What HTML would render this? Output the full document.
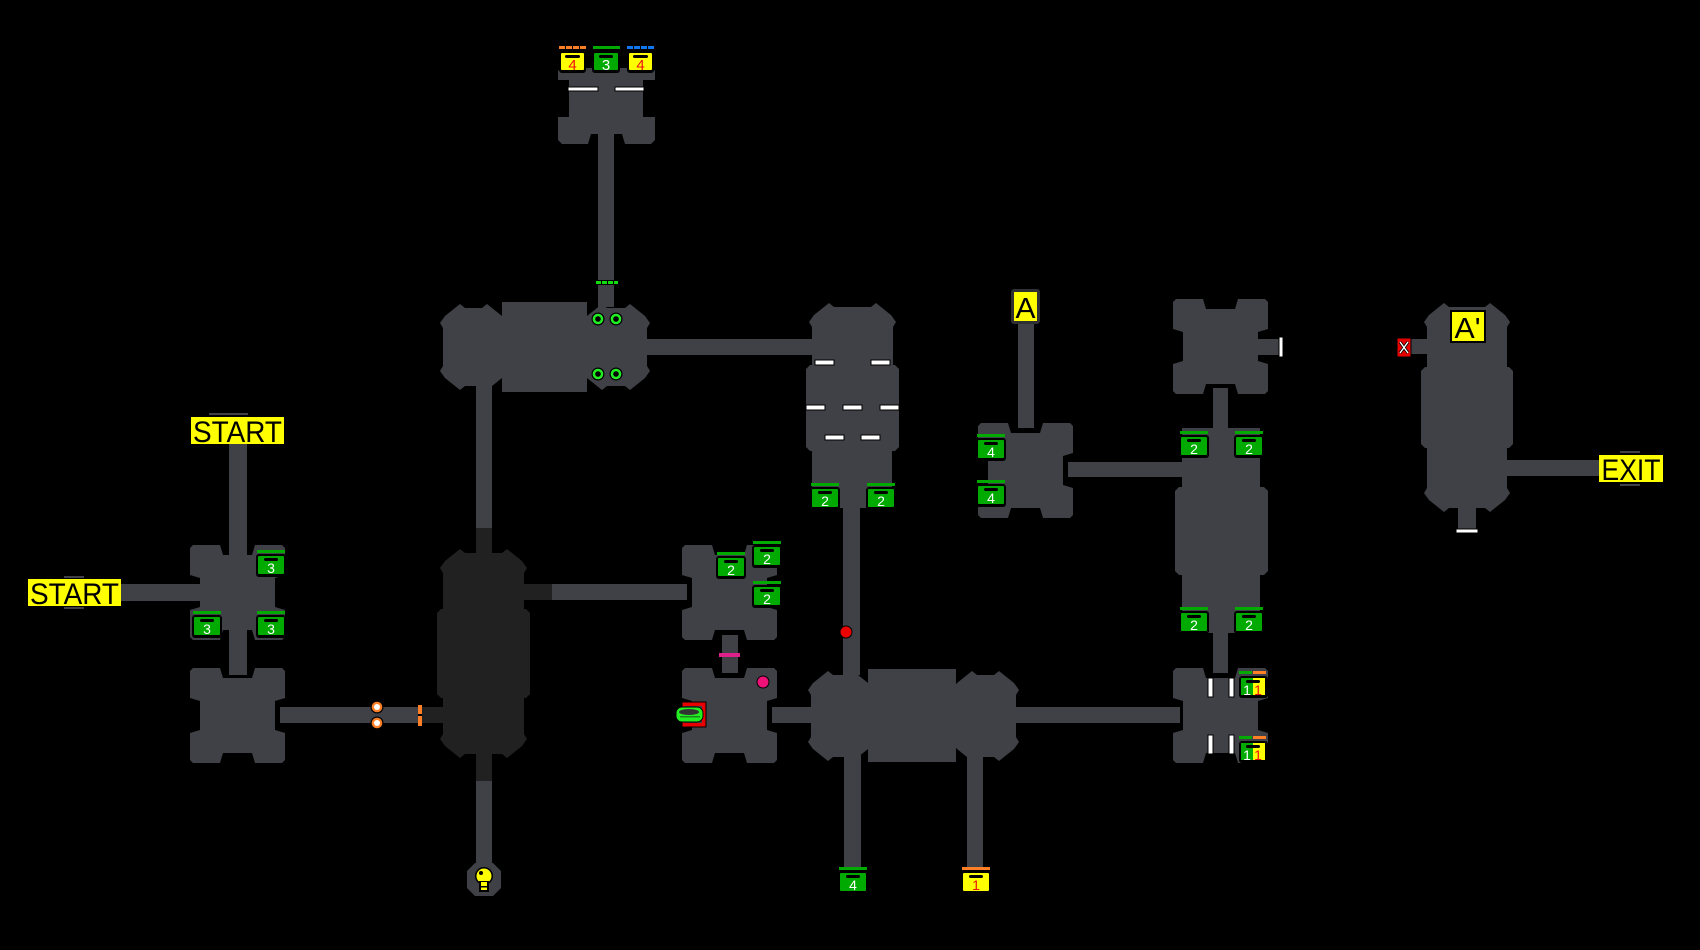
<!DOCTYPE html>
<html>
<head>
<meta charset="utf-8">
<style>
html,body{margin:0;padding:0;background:#000;}
svg{display:block;}
text{font-family:"Liberation Sans",sans-serif;}
</style>
</head>
<body>
<svg width="1700" height="950" viewBox="0 0 1700 950" xmlns="http://www.w3.org/2000/svg">
<defs>
<path id="cr" d="M3,0 L30,0 L33,10 L62,10 L65,0 L92,0 L95,3 L95,30 L85,33 L85,62 L95,65 L95,92 L92,95 L65,95 L62,85 L33,85 L30,95 L3,95 L0,92 L0,65 L10,62 L10,33 L0,30 L0,3 Z"/>
</defs>
<rect width="1700" height="950" fill="#000"/>

<!-- corridors -->
<g fill="#3f4146">
<rect x="229" y="444" width="18" height="120"/>
<rect x="121" y="584" width="85" height="17"/>
<rect x="229" y="625" width="18" height="50"/>
<rect x="280" y="707" width="142" height="16"/>
<rect x="476" y="385" width="16" height="143"/>
<rect x="476" y="781" width="16" height="85"/>
<rect x="552" y="584" width="135" height="16"/>
<rect x="598" y="130" width="16" height="177"/>
<rect x="645" y="339" width="170" height="16"/>
<rect x="843" y="505" width="17" height="170"/>
<rect x="722" y="635" width="16" height="38"/>
<rect x="772" y="707" width="40" height="16"/>
<rect x="844" y="755" width="17" height="115"/>
<rect x="967" y="755" width="16" height="115"/>
<rect x="1015" y="707" width="165" height="16"/>
<rect x="1213" y="628" width="15" height="45"/>
<rect x="1213" y="388" width="15" height="45"/>
<rect x="1068" y="462" width="115" height="15"/>
<rect x="1018" y="321" width="16" height="107"/>
<rect x="1258" y="339" width="22" height="16"/>
<rect x="1411" y="339" width="17" height="15"/>
<rect x="1507" y="460" width="92" height="16"/>
<rect x="1458" y="505" width="18" height="25"/>
<!-- small tabs near labels -->
<rect x="209" y="413" width="39" height="2"/>
<rect x="64" y="576" width="20" height="2"/>
<rect x="64" y="607" width="20" height="2"/>
<rect x="1620" y="451" width="20" height="2"/>
<rect x="1620" y="484" width="20" height="2"/>
</g>
<g fill="#212121">
<rect x="476" y="528" width="16" height="25"/>
<rect x="476" y="753" width="16" height="28"/>
<rect x="523" y="584" width="29" height="16"/>
<rect x="422" y="707" width="23" height="16"/>
</g>

<!-- cross rooms -->
<g fill="#3f4146">
<use href="#cr" x="190" y="545"/>
<use href="#cr" x="190" y="668"/>
<use href="#cr" x="682" y="545"/>
<use href="#cr" x="682" y="668"/>
<use href="#cr" x="1173" y="668"/>
<use href="#cr" x="1173" y="299"/>
<use href="#cr" x="978" y="423"/>
</g>

<!-- blob rooms -->
<g fill="#3f4146">
<!-- D -->
<polygon points="460,304 465,308 482,308 487,304 502,316 507,323 504,328 504,366 507,371 502,378 487,390 482,386 465,386 460,390 445,378 440,371 443,366 443,328 440,323 445,316"/>
<rect x="502" y="302" width="85" height="90"/>
<polygon points="602,304 607,308 625,308 630,304 645,316 650,323 647,328 647,366 650,371 645,378 630,390 625,386 607,386 602,390 587,378 582,371 585,366 585,328 582,323 587,316"/>
<!-- I -->
<polygon points="828,671 833,675 848,675 853,671 868,683 873,690 870,695 870,737 873,742 868,749 853,761 848,757 833,757 828,761 813,749 808,742 811,737 811,695 808,690 813,683"/>
<rect x="868" y="669" width="88" height="93"/>
<polygon points="972,671 977,675 994,675 999,671 1014,683 1019,690 1016,695 1016,737 1019,742 1014,749 999,761 994,757 977,757 972,761 957,749 952,742 955,737 955,695 952,690 957,683"/>
<!-- F -->
<polygon points="829,303 834,307 871,307 876,303 891,315 896,322 893,327 893,368 812,368 812,327 809,322 814,315"/>
<polygon points="810,365 895,365 899,369 899,447 895,451 810,451 806,447 806,369"/>
<rect x="812" y="450" width="80" height="58"/>
<!-- N -->
<polygon points="1444,303 1449,307 1485,307 1490,303 1505,315 1510,322 1507,327 1507,370 1427,370 1427,327 1424,322 1429,315"/>
<polygon points="1425,367 1509,367 1513,371 1513,444 1509,448 1425,448 1421,444 1421,371"/>
<polygon points="1427,446 1507,446 1507,488 1510,493 1505,500 1490,512 1485,508 1449,508 1444,512 1429,500 1424,493 1427,488"/>
<!-- K -->
<rect x="1182" y="428" width="78" height="62"/>
<polygon points="1179,487 1264,487 1268,491 1268,571 1264,575 1179,575 1175,571 1175,491"/>
<rect x="1182" y="573" width="78" height="60"/>
<!-- E -->
<rect x="569" y="70" width="74" height="64"/>
<polygon points="561,68 652,68 655,71 655,80 558,80 558,71"/>
<polygon points="558,117 588,117 588,134 591,134 588,144 562,144 558,140"/>
<polygon points="625,117 655,117 655,140 651,144 625,144 622,134 625,134"/>
<rect x="569" y="110" width="74" height="24"/>
<!-- bulb octagon -->
<polygon points="475,863 493,863 501,871 501,888 493,896 475,896 467,888 467,871"/>
</g>

<!-- dark room C -->
<g fill="#212121">
<polygon points="460,549 465,553 502,553 507,549 522,561 527,568 524,573 524,615 443,615 443,573 440,568 445,561"/>
<polygon points="441,609 526,609 530,613 530,694 526,698 441,698 437,694 437,613"/>
<polygon points="443,693 524,693 524,734 527,739 522,746 507,758 502,754 465,754 460,758 445,746 440,739 443,734"/>
</g>

<!-- white bars -->
<g fill="#fff" stroke="#000" stroke-width="1">
<rect x="568" y="87" width="30" height="4"/>
<rect x="615" y="87" width="29" height="4"/>
<rect x="815" y="360" width="19" height="5"/>
<rect x="871" y="360" width="19" height="5"/>
<rect x="806" y="405" width="19" height="5"/>
<rect x="843" y="405" width="19" height="5"/>
<rect x="880" y="405" width="19" height="5"/>
<rect x="825" y="435" width="19" height="5"/>
<rect x="861" y="435" width="19" height="5"/>
<rect x="1208" y="678" width="5" height="19"/>
<rect x="1229" y="678" width="5" height="19"/>
<rect x="1208" y="735" width="5" height="19"/>
<rect x="1229" y="735" width="5" height="19"/>
<rect x="1279" y="337" width="4" height="20"/>
<rect x="1456" y="529" width="22" height="4"/>
</g>

<!-- green dotted bar -->
<rect x="595" y="280" width="24" height="5" fill="#000"/>
<g fill="#11dd11">
<rect x="596" y="281" width="5" height="3"/>
<rect x="602" y="281" width="5" height="3"/>
<rect x="608" y="281" width="5" height="3"/>
<rect x="614" y="281" width="4" height="3"/>
</g>

<!-- green rings -->
<g>
<circle cx="598" cy="319" r="6.5" fill="#000"/><circle cx="598" cy="319" r="5.3" fill="#22ee22"/><circle cx="598" cy="319" r="2.8" fill="#000"/>
<circle cx="616" cy="319" r="6.5" fill="#000"/><circle cx="616" cy="319" r="5.3" fill="#22ee22"/><circle cx="616" cy="319" r="2.8" fill="#000"/>
<circle cx="598" cy="374" r="6.5" fill="#000"/><circle cx="598" cy="374" r="5.3" fill="#22ee22"/><circle cx="598" cy="374" r="2.8" fill="#000"/>
<circle cx="616" cy="374" r="6.5" fill="#000"/><circle cx="616" cy="374" r="5.3" fill="#22ee22"/><circle cx="616" cy="374" r="2.8" fill="#000"/>
</g>

<!-- orange rings and bar -->
<g>
<circle cx="377" cy="707" r="6.5" fill="#000"/><circle cx="377" cy="707" r="5.3" fill="#ff7f27"/><circle cx="377" cy="707" r="3" fill="#fff"/>
<circle cx="377" cy="723" r="6.5" fill="#000"/><circle cx="377" cy="723" r="5.3" fill="#ff7f27"/><circle cx="377" cy="723" r="3" fill="#fff"/>
<rect x="418" y="705" width="4" height="21" fill="#ff7f27"/>
<rect x="418" y="714" width="4" height="2" fill="#000"/>
</g>

<!-- red dot, pink dot, pink bar -->
<circle cx="846" cy="632" r="6.5" fill="#000"/><circle cx="846" cy="632" r="5.5" fill="#ee0000"/>
<circle cx="763" cy="682" r="6.5" fill="#000"/><circle cx="763" cy="682" r="5.5" fill="#ee1177"/>
<rect x="719" y="653" width="21" height="4" fill="#e0208a"/>

<!-- red box with green tub -->
<rect x="682" y="702" width="24" height="25" fill="#e80000" stroke="#000" stroke-width="1"/>
<rect x="684" y="706" width="18" height="17" fill="#3f4146"/>
<rect x="676" y="707" width="27" height="15" rx="6" fill="#22ee22" stroke="#000" stroke-width="1"/>
<ellipse cx="689" cy="712" rx="10" ry="3" fill="#333"/>
<rect x="680" y="716" width="20" height="1.5" fill="#1a8a1a"/>

<!-- X box -->
<rect x="1397" y="338" width="14" height="19" fill="#e80000" stroke="#000" stroke-width="1"/>
<path d="M1400,342 L1408,353 M1408,342 L1400,353" stroke="#000" stroke-width="3"/>
<path d="M1400,342 L1408,353 M1408,342 L1400,353" stroke="#fff" stroke-width="1.4"/>

<!-- bulb -->
<circle cx="484" cy="876" r="9" fill="#000"/>
<circle cx="484" cy="876" r="7.5" fill="#ffff00"/>
<rect x="479" y="881" width="10" height="11" fill="#000"/>
<rect x="481" y="882" width="6" height="8" fill="#ffff00"/>
<rect x="481" y="886" width="6" height="1.5" fill="#000"/>
<circle cx="481" cy="873" r="2" fill="#000"/>

<!-- chests -->
<!-- E -->
<g transform="translate(559,46)">
<rect x="0" y="0" width="27" height="4" fill="#000"/>
<rect x="0" y="0" width="6" height="3" fill="#ff7f27"/><rect x="7" y="0" width="6" height="3" fill="#ff7f27"/><rect x="14" y="0" width="6" height="3" fill="#ff7f27"/><rect x="21" y="0" width="6" height="3" fill="#ff7f27"/>
<rect x="0" y="5" width="27" height="22" rx="3" fill="#000"/>
<rect x="2" y="7" width="23" height="17" rx="1" fill="#ffff00"/>
<rect x="6" y="9" width="15" height="3" rx="1.5" fill="#000"/>
<text x="13.5" y="24" font-size="15" text-anchor="middle" fill="#ee1111">4</text>
</g>
<g transform="translate(592,46)">
<rect x="1" y="0" width="27" height="3" fill="#00aa00"/>
<rect x="0" y="5" width="28" height="22" rx="3" fill="#000"/>
<rect x="2" y="7" width="24" height="17" rx="1" fill="#00aa00"/>
<rect x="7" y="9" width="14" height="3" rx="1.5" fill="#000"/>
<text x="14" y="24" font-size="15" text-anchor="middle" fill="#fff">3</text>
</g>
<g transform="translate(627,46)">
<rect x="0" y="0" width="27" height="4" fill="#000"/>
<rect x="0" y="0" width="6" height="3" fill="#1177ee"/><rect x="7" y="0" width="6" height="3" fill="#1177ee"/><rect x="14" y="0" width="6" height="3" fill="#1177ee"/><rect x="21" y="0" width="6" height="3" fill="#1177ee"/>
<rect x="0" y="5" width="27" height="22" rx="3" fill="#000"/>
<rect x="2" y="7" width="23" height="17" rx="1" fill="#ffff00"/>
<rect x="6" y="9" width="15" height="3" rx="1.5" fill="#000"/>
<text x="13.5" y="24" font-size="15" text-anchor="middle" fill="#ee1111">4</text>
</g>

<!-- green chests (generic) -->
<g id="gchests">
<g transform="translate(256,550)"><rect x="1" y="0" width="28" height="3" fill="#00aa00"/><rect x="0" y="4" width="30" height="23" rx="3" fill="#000"/><rect x="2" y="6" width="26" height="18" rx="1" fill="#00aa00"/><rect x="8" y="8" width="14" height="3" rx="1.5" fill="#000"/><text x="15" y="23" font-size="14" text-anchor="middle" fill="#fff">3</text></g>
<g transform="translate(192,611)"><rect x="1" y="0" width="28" height="3" fill="#00aa00"/><rect x="0" y="4" width="30" height="23" rx="3" fill="#000"/><rect x="2" y="6" width="26" height="18" rx="1" fill="#00aa00"/><rect x="8" y="8" width="14" height="3" rx="1.5" fill="#000"/><text x="15" y="23" font-size="14" text-anchor="middle" fill="#fff">3</text></g>
<g transform="translate(256,611)"><rect x="1" y="0" width="28" height="3" fill="#00aa00"/><rect x="0" y="4" width="30" height="23" rx="3" fill="#000"/><rect x="2" y="6" width="26" height="18" rx="1" fill="#00aa00"/><rect x="8" y="8" width="14" height="3" rx="1.5" fill="#000"/><text x="15" y="23" font-size="14" text-anchor="middle" fill="#fff">3</text></g>

<g transform="translate(716,552)"><rect x="1" y="0" width="28" height="3" fill="#00aa00"/><rect x="0" y="4" width="30" height="23" rx="3" fill="#000"/><rect x="2" y="6" width="26" height="18" rx="1" fill="#00aa00"/><rect x="8" y="8" width="14" height="3" rx="1.5" fill="#000"/><text x="15" y="23" font-size="14" text-anchor="middle" fill="#fff">2</text></g>
<g transform="translate(752,541)"><rect x="1" y="0" width="28" height="3" fill="#00aa00"/><rect x="0" y="4" width="30" height="23" rx="3" fill="#000"/><rect x="2" y="6" width="26" height="18" rx="1" fill="#00aa00"/><rect x="8" y="8" width="14" height="3" rx="1.5" fill="#000"/><text x="15" y="23" font-size="14" text-anchor="middle" fill="#fff">2</text></g>
<g transform="translate(752,581)"><rect x="1" y="0" width="28" height="3" fill="#00aa00"/><rect x="0" y="4" width="30" height="23" rx="3" fill="#000"/><rect x="2" y="6" width="26" height="18" rx="1" fill="#00aa00"/><rect x="8" y="8" width="14" height="3" rx="1.5" fill="#000"/><text x="15" y="23" font-size="14" text-anchor="middle" fill="#fff">2</text></g>

<g transform="translate(810,483)"><rect x="1" y="0" width="28" height="3" fill="#00aa00"/><rect x="0" y="4" width="30" height="23" rx="3" fill="#000"/><rect x="2" y="6" width="26" height="18" rx="1" fill="#00aa00"/><rect x="8" y="8" width="14" height="3" rx="1.5" fill="#000"/><text x="15" y="23" font-size="14" text-anchor="middle" fill="#fff">2</text></g>
<g transform="translate(866,483)"><rect x="1" y="0" width="28" height="3" fill="#00aa00"/><rect x="0" y="4" width="30" height="23" rx="3" fill="#000"/><rect x="2" y="6" width="26" height="18" rx="1" fill="#00aa00"/><rect x="8" y="8" width="14" height="3" rx="1.5" fill="#000"/><text x="15" y="23" font-size="14" text-anchor="middle" fill="#fff">2</text></g>

<g transform="translate(976,434)"><rect x="1" y="0" width="28" height="3" fill="#00aa00"/><rect x="0" y="4" width="30" height="23" rx="3" fill="#000"/><rect x="2" y="6" width="26" height="18" rx="1" fill="#00aa00"/><rect x="8" y="8" width="14" height="3" rx="1.5" fill="#000"/><text x="15" y="23" font-size="14" text-anchor="middle" fill="#fff">4</text></g>
<g transform="translate(976,480)"><rect x="1" y="0" width="28" height="3" fill="#00aa00"/><rect x="0" y="4" width="30" height="23" rx="3" fill="#000"/><rect x="2" y="6" width="26" height="18" rx="1" fill="#00aa00"/><rect x="8" y="8" width="14" height="3" rx="1.5" fill="#000"/><text x="15" y="23" font-size="14" text-anchor="middle" fill="#fff">4</text></g>

<g transform="translate(1179,431)"><rect x="1" y="0" width="28" height="3" fill="#00aa00"/><rect x="0" y="4" width="30" height="23" rx="3" fill="#000"/><rect x="2" y="6" width="26" height="18" rx="1" fill="#00aa00"/><rect x="8" y="8" width="14" height="3" rx="1.5" fill="#000"/><text x="15" y="23" font-size="14" text-anchor="middle" fill="#fff">2</text></g>
<g transform="translate(1234,431)"><rect x="1" y="0" width="28" height="3" fill="#00aa00"/><rect x="0" y="4" width="30" height="23" rx="3" fill="#000"/><rect x="2" y="6" width="26" height="18" rx="1" fill="#00aa00"/><rect x="8" y="8" width="14" height="3" rx="1.5" fill="#000"/><text x="15" y="23" font-size="14" text-anchor="middle" fill="#fff">2</text></g>
<g transform="translate(1179,607)"><rect x="1" y="0" width="28" height="3" fill="#00aa00"/><rect x="0" y="4" width="30" height="23" rx="3" fill="#000"/><rect x="2" y="6" width="26" height="18" rx="1" fill="#00aa00"/><rect x="8" y="8" width="14" height="3" rx="1.5" fill="#000"/><text x="15" y="23" font-size="14" text-anchor="middle" fill="#fff">2</text></g>
<g transform="translate(1234,607)"><rect x="1" y="0" width="28" height="3" fill="#00aa00"/><rect x="0" y="4" width="30" height="23" rx="3" fill="#000"/><rect x="2" y="6" width="26" height="18" rx="1" fill="#00aa00"/><rect x="8" y="8" width="14" height="3" rx="1.5" fill="#000"/><text x="15" y="23" font-size="14" text-anchor="middle" fill="#fff">2</text></g>

<g transform="translate(838,867)"><rect x="1" y="0" width="28" height="3" fill="#00aa00"/><rect x="0" y="4" width="30" height="23" rx="3" fill="#000"/><rect x="2" y="6" width="26" height="18" rx="1" fill="#00aa00"/><rect x="8" y="8" width="14" height="3" rx="1.5" fill="#000"/><text x="15" y="23" font-size="14" text-anchor="middle" fill="#fff">4</text></g>
</g>

<!-- yellow 1 chest bottom -->
<g transform="translate(961,867)"><rect x="1" y="0" width="28" height="3" fill="#ff7f27"/><rect x="0" y="4" width="30" height="23" rx="3" fill="#000"/><rect x="2" y="6" width="26" height="18" rx="1" fill="#ffff00"/><rect x="8" y="8" width="14" height="3" rx="1.5" fill="#000"/><text x="15" y="23" font-size="14" text-anchor="middle" fill="#ee1111">1</text></g>

<!-- split chests J -->
<g transform="translate(1239,671)">
<rect x="0" y="0" width="13" height="3" fill="#00aa00"/><rect x="14" y="0" width="13" height="3" fill="#ff7f27"/>
<rect x="0" y="5" width="29" height="22" rx="3" fill="#000"/>
<rect x="2" y="7" width="12" height="17" fill="#00aa00"/><rect x="14" y="7" width="12" height="17" fill="#ffff00"/>
<rect x="7" y="9" width="14" height="3" rx="1.5" fill="#000"/>
<text x="8" y="24" font-size="14" text-anchor="middle" fill="#fff">1</text>
<text x="19" y="24" font-size="14" text-anchor="middle" fill="#ee1111">1</text>
</g>
<g transform="translate(1239,736)">
<rect x="0" y="0" width="13" height="3" fill="#00aa00"/><rect x="14" y="0" width="13" height="3" fill="#ff7f27"/>
<rect x="0" y="5" width="29" height="22" rx="3" fill="#000"/>
<rect x="2" y="7" width="12" height="17" fill="#00aa00"/><rect x="14" y="7" width="12" height="17" fill="#ffff00"/>
<rect x="7" y="9" width="14" height="3" rx="1.5" fill="#000"/>
<text x="8" y="24" font-size="14" text-anchor="middle" fill="#fff">1</text>
<text x="19" y="24" font-size="14" text-anchor="middle" fill="#ee1111">1</text>
</g>

<!-- labels -->
<rect x="191" y="417" width="93" height="27" fill="#ffff00"/>
<text x="237.5" y="442" font-size="30" text-anchor="middle" fill="#000" textLength="89" lengthAdjust="spacingAndGlyphs">START</text>

<rect x="28" y="579" width="93" height="27" fill="#ffff00"/>
<text x="74.5" y="604" font-size="30" text-anchor="middle" fill="#000" textLength="89" lengthAdjust="spacingAndGlyphs">START</text>

<rect x="1599" y="455" width="64" height="27" fill="#ffff00"/>
<text x="1631" y="480" font-size="30" text-anchor="middle" fill="#000" textLength="59" lengthAdjust="spacingAndGlyphs">EXIT</text>

<rect x="1011" y="289" width="29" height="35" rx="3" fill="#2e3034"/>
<rect x="1014" y="292" width="23" height="29" fill="#ffff00"/>
<text x="1025.5" y="318" font-size="29" text-anchor="middle" fill="#000" textLength="20" lengthAdjust="spacingAndGlyphs">A</text>

<rect x="1450" y="310" width="36" height="33" fill="#000"/>
<rect x="1452" y="312" width="32" height="29" fill="#ffff00"/>
<text x="1467.5" y="338" font-size="29" text-anchor="middle" fill="#000" textLength="26" lengthAdjust="spacingAndGlyphs">A'</text>
</svg>
</body>
</html>
